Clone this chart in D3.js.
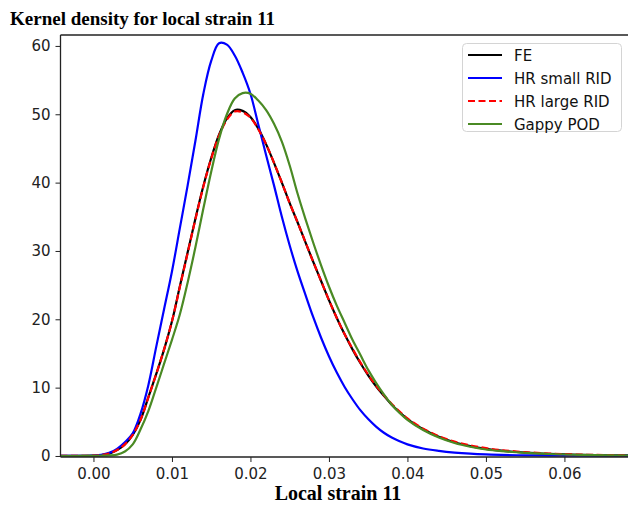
<!DOCTYPE html>
<html>
<head>
<meta charset="utf-8">
<script src="https://cdn.jsdelivr.net/npm/d3@7"></script>
<style>
  body { margin: 0; background: #fff; }
  .tick text { font-family: "DejaVu Sans", sans-serif; font-size: 15px; fill: #222; }
</style>
</head>
<body>
<svg id="chart" width="628" height="509"></svg>
<script>
// strain grid shared by all curves
const strain = [-0.0042, -0.002, 0.000, 0.001, 0.002, 0.003, 0.004, 0.005, 0.006, 0.007,
  0.008, 0.009, 0.010, 0.011, 0.012, 0.013, 0.014, 0.015, 0.016, 0.017,
  0.018, 0.019, 0.020, 0.021, 0.022, 0.023, 0.024, 0.025, 0.026, 0.027,
  0.028, 0.029, 0.030, 0.031, 0.032, 0.033, 0.034, 0.035, 0.036, 0.037,
  0.038, 0.039, 0.040, 0.042, 0.044, 0.046, 0.048, 0.050, 0.052, 0.055,
  0.058, 0.061, 0.064, 0.0681];

const fe = [0.02, 0.02, 0.05, 0.12, 0.35, 0.85, 1.7, 3.1, 5.3, 8.6,
  12.0, 15.6, 19.7, 24.8, 29.8, 34.8, 39.5, 43.6, 47.0, 49.4,
  50.6, 50.5, 49.6, 47.9, 45.6, 42.9, 40.0, 37.0, 34.2, 31.3,
  28.4, 25.6, 22.8, 20.2, 17.8, 15.6, 13.6, 11.8, 10.2, 8.8,
  7.5, 6.4, 5.4, 3.9, 2.8, 2.0, 1.45, 1.05, 0.78, 0.5,
  0.32, 0.2, 0.13, 0.08];

const hrSmall = [0.02, 0.02, 0.05, 0.15, 0.45, 1.05, 2.0, 3.3, 6.2, 10.4,
  16.0, 21.5, 27.0, 33.3, 39.6, 46.2, 53.0, 57.8, 60.4, 60.2,
  58.6, 56.1, 53.0, 48.5, 44.0, 39.6, 35.0, 30.8, 27.0, 23.6,
  20.3, 17.3, 14.6, 12.2, 10.1, 8.3, 6.7, 5.4, 4.3, 3.4,
  2.7, 2.15, 1.7, 1.1, 0.75, 0.5, 0.33, 0.22, 0.15, 0.09,
  0.06, 0.04, 0.03, 0.02];

const hrLarge = [0.02, 0.02, 0.05, 0.13, 0.37, 0.88, 1.7, 3.1, 5.3, 8.6,
  12.0, 15.6, 19.7, 24.7, 29.7, 34.7, 39.4, 43.5, 46.9, 49.2,
  50.4, 50.3, 49.5, 47.8, 45.6, 42.9, 40.0, 37.0, 34.2, 31.3,
  28.4, 25.6, 22.8, 20.2, 17.8, 15.7, 13.7, 11.9, 10.3, 8.9,
  7.6, 6.5, 5.5, 4.0, 2.9, 2.1, 1.55, 1.15, 0.85, 0.56,
  0.36, 0.23, 0.15, 0.09];

const gappy = [0.0, 0.0, 0.02, 0.04, 0.08, 0.2, 0.65, 1.7, 3.9, 6.6,
  10.0, 13.5, 17.0, 20.7, 25.4, 30.6, 36.2, 41.6, 46.4, 50.0,
  52.3, 53.1, 53.0, 52.0, 50.6, 48.6, 46.0, 42.5, 38.4, 34.7,
  31.2, 27.9, 24.8, 22.0, 19.5, 17.0, 14.8, 12.6, 10.7, 9.0,
  7.5, 6.3, 5.3, 3.8, 2.7, 1.9, 1.35, 0.95, 0.7, 0.45,
  0.29, 0.18, 0.12, 0.07];

const seriesNames = ['FE', 'HR small RID', 'HR large RID', 'Gappy POD'];
const xTicks = [0.00, 0.01, 0.02, 0.03, 0.04, 0.05, 0.06];
const yTicks = [0, 10, 20, 30, 40, 50, 60];

const series = [
  { name: seriesNames[0], values: fe, color: '#000000', dash: null },
  { name: seriesNames[1], values: hrSmall, color: '#0000ff', dash: null },
  { name: seriesNames[2], values: hrLarge, color: '#ff0000', dash: '7,3.5' },
  { name: seriesNames[3], values: gappy, color: '#4a8a24', dash: null }
];

const svg = d3.select('#chart');
const mLeft = 60.5, mRight = 628, mTop = 35, mBottom = 457;

const x = d3.scaleLinear().domain([-0.0042, 0.0681]).range([mLeft, mRight]);
const y = d3.scaleLinear().domain([-0.15, 61.6]).range([mBottom, mTop]);

svg.append('defs').append('clipPath').attr('id', 'plot')
  .append('rect').attr('x', mLeft).attr('y', mTop)
  .attr('width', mRight - mLeft).attr('height', mBottom - mTop);

const line = d3.line()
  .x((d, i) => x(strain[i]))
  .y(d => y(d))
  .curve(d3.curveCatmullRom.alpha(0.5));

svg.append('g').attr('clip-path', 'url(#plot)')
  .selectAll('path')
  .data(series)
  .enter()
  .append('path')
  .attr('d', d => line(d.values))
  .attr('fill', 'none')
  .attr('stroke', d => d.color)
  .attr('stroke-width', 2.2)
  .attr('stroke-dasharray', d => d.dash)
  .attr('stroke-linejoin', 'round');

// axes
const xAxis = svg.append('g')
  .attr('transform', `translate(0,${mBottom})`)
  .call(d3.axisBottom(x).tickValues(xTicks).tickFormat(d3.format('.2f')).tickSize(5).tickPadding(6));
const yAxis = svg.append('g')
  .attr('transform', `translate(${mLeft},0)`)
  .call(d3.axisLeft(y).tickValues(yTicks).tickSize(5).tickPadding(5));

[xAxis, yAxis].forEach(a => {
  a.select('.domain').remove();
  a.selectAll('.tick line').attr('stroke', '#222').attr('stroke-width', 1);
});

// spines (figure is cut at the right edge)
svg.append('line').attr('x1', mLeft).attr('x2', mRight).attr('y1', mBottom).attr('y2', mBottom)
  .attr('stroke', '#222').attr('stroke-width', 1.3);
svg.append('line').attr('x1', mLeft).attr('x2', mRight).attr('y1', mTop).attr('y2', mTop)
  .attr('stroke', '#222').attr('stroke-width', 1.3);
svg.append('line').attr('x1', mLeft).attr('x2', mLeft).attr('y1', mTop).attr('y2', mBottom)
  .attr('stroke', '#222').attr('stroke-width', 1.3);

// titles
svg.append('text')
  .attr('x', 10).attr('y', 25)
  .attr('font-family', '"Liberation Serif", serif')
  .attr('font-weight', 'bold')
  .attr('font-size', 19)
  .text('Kernel density for local strain 11');

svg.append('text')
  .attr('x', 338).attr('y', 500)
  .attr('text-anchor', 'middle')
  .attr('font-family', '"Liberation Serif", serif')
  .attr('font-weight', 'bold')
  .attr('font-size', 20)
  .text('Local strain 11');

// legend
const legend = svg.append('g');
legend.append('rect')
  .attr('x', 462.5).attr('y', 43.5).attr('width', 159).attr('height', 88)
  .attr('rx', 4).attr('fill', '#fff').attr('stroke', '#d4d4d4');

const rows = legend.selectAll('g.row')
  .data(series)
  .enter()
  .append('g')
  .attr('class', 'row')
  .attr('transform', (d, i) => `translate(0,${55 + i * 23})`);

rows.append('line')
  .attr('x1', 468).attr('x2', 502)
  .attr('stroke', d => d.color)
  .attr('stroke-width', 2.2)
  .attr('stroke-dasharray', d => d.dash);

rows.append('text')
  .attr('x', 514).attr('y', 5.5)
  .attr('font-family', '"DejaVu Sans", sans-serif')
  .attr('font-size', 15)
  .attr('fill', '#111')
  .text(d => d.name);
</script>
</body>
</html>
